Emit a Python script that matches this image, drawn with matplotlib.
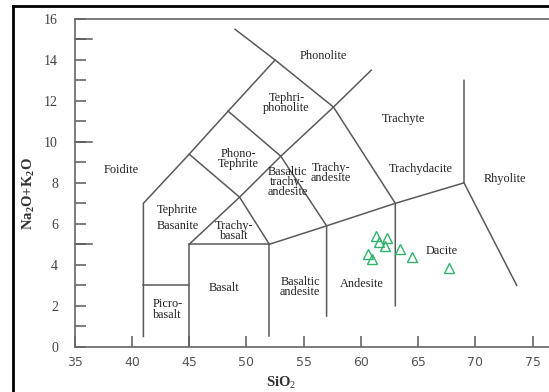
import matplotlib
matplotlib.use('Agg')
import matplotlib.pyplot as plt
from matplotlib.lines import Line2D

plt.rcParams['mathtext.fontset'] = 'custom'
plt.rcParams['mathtext.rm'] = 'Liberation Serif'
plt.rcParams['mathtext.bf'] = 'Liberation Serif:bold'
plt.rcParams['font.family'] = 'Liberation Serif'

# sample analyses (wt%)
sio2 = [61.3, 62.3, 61.6, 62.1, 60.6, 61.0, 63.4, 64.5, 67.7]
alkali = [5.40, 5.29, 5.11, 4.91, 4.51, 4.26, 4.75, 4.39, 3.82]

# TAS field boundaries (SiO2, Na2O+K2O)
boundaries = [
    [(41, 0.5), (41, 7), (45, 9.4), (48.4, 11.5), (52.5, 14), (49, 15.5)],
    [(41, 3), (45, 3)],
    [(45, 0), (45, 5), (52, 5), (52, 0.5)],
    [(45, 5), (49.4, 7.3), (53, 9.3), (57.6, 11.7), (60.9, 13.5)],
    [(45, 9.4), (49.4, 7.3), (52, 5)],
    [(48.4, 11.5), (53, 9.3), (57, 5.9), (57, 1.5)],
    [(52.5, 14), (57.6, 11.7), (63, 7), (63, 2)],
    [(52, 5), (57, 5.9), (63, 7), (69, 8), (69, 13)],
    [(69, 8), (73.6, 3)],
]

# field names: (text, SiO2, Na2O+K2O)
field_labels = [
    ("Phonolite", 56.7, 14.2),
    ("Tephri-\nphonolite", 53.5, 11.9),
    ("Phono-\nTephrite", 49.3, 9.15),
    ("Foidite", 39.1, 8.65),
    ("Trachyte", 63.7, 11.1),
    ("Trachy-\nandesite", 57.4, 8.5),
    ("Trachydacite", 65.2, 8.7),
    ("Rhyolite", 72.6, 8.2),
    ("Tephrite", 44.0, 6.66),
    ("Basanite", 44.0, 5.9),
    ("Trachy-\nbasalt", 48.9, 5.65),
    ("Basaltic\ntrachy-\nandesite", 53.6, 8.05),
    ("Basalt", 48.0, 2.86),
    ("Picro-\nbasalt", 43.1, 1.82),
    ("Basaltic\nandesite", 54.7, 2.9),
    ("Andesite", 60.1, 3.05),
    ("Dacite", 67.05, 4.68),
]

x_ticks = [35, 40, 45, 50, 55, 60, 65, 70, 75]
y_ticks = [0, 2, 4, 6, 8, 10, 12, 14, 16]

W, H = 549, 392
fig = plt.figure(figsize=(W / 100, H / 100), dpi=100)
fig.patch.set_facecolor('white')

# axes runs off the right side of the picture, as in the reference
ax = fig.add_axes([74.7 / W, (H - 346.7) / H, 42 * 11.45 / W, (346.7 - 19) / H])
ax.set_xlim(35, 77)
ax.set_ylim(0, 16)
for s in ['left', 'bottom', 'top', 'right']:
    ax.spines[s].set_color('#666666')
    ax.spines[s].set_linewidth(1.2)

grey = '#5a5a5a'
for line in boundaries:
    xs, ys = zip(*line)
    ax.plot(xs, ys, color=grey, lw=1.1, solid_joinstyle='miter')

for text, x, y in field_labels:
    ax.text(x, y, text, ha='center', va='center', fontsize=8.8,
            color='#222222', linespacing=0.8)

ax.plot(sio2, alkali, linestyle='none', marker='^', ms=7.5, mfc='none',
        mec='#2fb36a', mew=1.0)

ax.set_xticks(x_ticks)
ax.set_yticks(y_ticks)
ax.set_yticks([1, 3, 5, 7, 9, 11, 13, 15], minor=True)
ax.tick_params(axis='x', direction='in', length=8, width=1.1, color=grey,
               labelsize=9, labelcolor='#555555', pad=7)
ax.tick_params(axis='y', which='both', direction='in', length=8, width=1.1,
               color=grey, labelsize=10, labelcolor='#444444', pad=12)
for lab in ax.get_xticklabels():
    lab.set_family('DejaVu Sans')
# long ticks at every fifth unit
for v in [5, 10, 15]:
    ax.plot([35, 35 + 17.5 / 11.45], [v, v], color=grey, lw=1.1, clip_on=False)

fig.text(281 / W, 1 - 383 / H, 'SiO$_2$', ha='center', va='center',
         fontsize=10.5, fontweight='bold', color='#333333')
fig.text(29 / W, 1 - 193 / H, r'Na$_\mathbf{2}$O+K$_\mathbf{2}$O', ha='center',
         va='center', rotation=90, fontsize=10.5, fontweight='bold',
         color='#333333')

# black outer frame (left and top)
fig.add_artist(Line2D([12.5 / W, 12.5 / W], [0, 1 - 6 / H], transform=fig.transFigure,
                      color='black', lw=2))
fig.add_artist(Line2D([12.5 / W, 1], [1 - 6 / H, 1 - 6 / H], transform=fig.transFigure,
                      color='black', lw=2))

fig.savefig('out.png', dpi=100)
